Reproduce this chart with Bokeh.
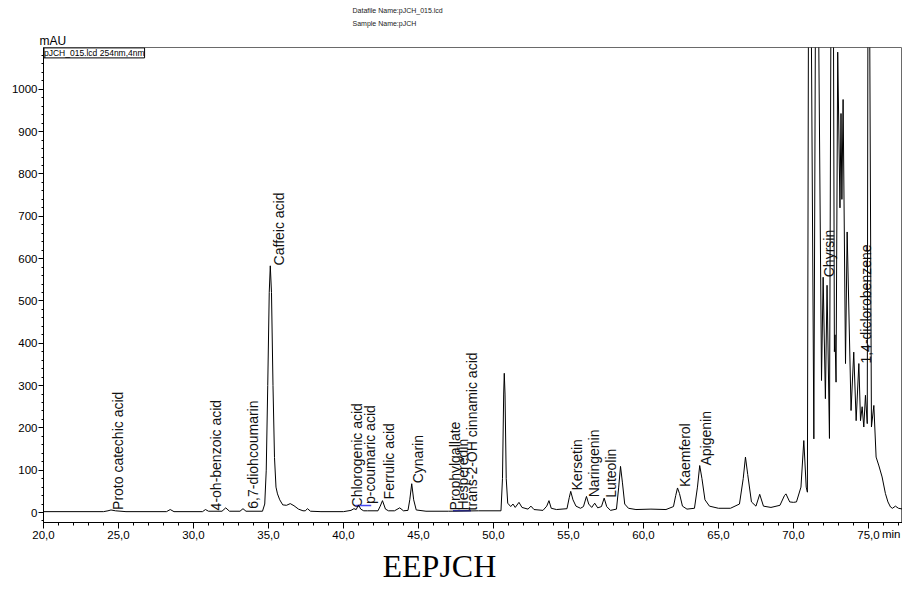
from bokeh.plotting import figure
from bokeh.models import ColumnDataSource, FixedTicker, Label, Range1d, Title
from bokeh.core.properties import value
from bokeh.embed import file_html
from bokeh.resources import INLINE
import math

# ---------------- data ----------------
time_min = [
    20.0, 24.0, 24.3, 24.5, 24.8, 25.5, 28.2, 28.45, 28.7, 30.6, 30.8, 31.0,
    31.9, 32.15, 32.4, 33.1, 33.3, 33.5, 34.6, 34.75, 34.85, 34.95, 35.05, 35.12,
    35.2, 35.3, 35.4, 35.5, 35.6, 35.75, 35.95, 36.2, 36.45, 36.7, 37.0, 37.3,
    37.45, 37.6, 37.8, 38.5, 40.0, 40.5, 40.7, 40.85, 41.0, 41.15, 41.35, 41.6,
    42.3, 42.45, 42.6, 42.8, 43.0, 43.4, 43.75, 44.0, 44.3, 44.42, 44.55, 44.68,
    44.85, 45.5, 47.0, 49.0, 50.5, 50.6, 50.68, 50.72, 50.77, 50.85, 50.95, 51.15,
    51.3, 51.45, 51.7, 51.9, 52.3, 52.5, 52.7, 53.3, 53.55, 53.7, 53.85, 54.2,
    54.9, 55.05, 55.15, 55.3, 55.5, 55.8, 56.0, 56.2, 56.35, 56.55, 56.75, 56.95,
    57.2, 57.38, 57.55, 57.8, 58.2, 58.35, 58.47, 58.6, 58.75, 59.0, 59.5, 60.5,
    61.5, 62.0, 62.15, 62.27, 62.4, 62.6, 62.9, 63.4, 63.6, 63.75, 63.9, 64.1,
    64.4, 65.0, 65.8, 66.4, 66.65, 66.8, 66.95, 67.2, 67.5, 67.75, 68.0, 68.5,
    69.1, 69.4, 69.5, 69.75, 70.0, 70.2, 70.5, 70.69, 70.85, 70.93, 71.02, 71.13,
    71.36, 71.5, 71.6, 71.87, 71.98, 72.13, 72.24, 72.4, 72.53, 72.64, 72.73, 72.77,
    72.84, 72.95, 73.1, 73.17, 73.23, 73.31, 73.47, 73.58, 73.84, 74.02, 74.18, 74.36,
    74.47, 74.58, 74.69, 74.8, 74.92, 74.98, 75.04, 75.2, 75.36, 75.51, 75.7, 75.91,
    76.13, 76.3, 76.47, 76.6, 76.8, 77.0, 77.3,
]
absorbance_mau = [
    2, 2, 4, 6, 4, 2, 2, 7, 2, 2, 7, 3,
    3, 11, 3, 3, 9, 3, 3, 20, 100, 300, 520, 583,
    520, 300, 130, 60, 44, 30, 18, 17, 21, 16, 8, 4,
    4, 9, 3, 2, 2, 5, 9, 7, 18, 8, 4, 4,
    4, 15, 28, 8, 4, 4, 11, 4, 5, 30, 68, 30,
    6, 3, 3, 4, 4, 80, 280, 329, 280, 80, 22, 14,
    20, 12, 24, 12, 8, 15, 7, 5, 15, 28, 10, 7,
    9, 35, 50, 30, 15, 10, 14, 38, 20, 12, 22, 11,
    14, 34, 14, 5, 8, 60, 109, 70, 20, 10, 7, 8,
    7, 14, 40, 58, 45, 15, 8, 10, 60, 111, 80, 30,
    15, 10, 10, 20, 80, 131, 90, 25, 15, 43, 15, 12,
    17, 40, 44, 25, 24, 25, 60, 170, 60, 48, 1500, 1500,
    174, 1500, 1500, 312, 556, 269, 537, 175, 1500, 1500, 380, 420,
    308, 1088, 720, 943, 740, 976, 352, 663, 241, 379, 217, 352,
    217, 250, 202, 277, 210, 1500, 1500, 202, 253, 131, 110, 84,
    45, 25, 13, 10, 15, 10, 8,
]

peak_names = [
    "Proto catechic acid", "4-oh-benzoic acid", "6,7-diohcoumarin", "Caffeic acid",
    "Chlorogenic acid", "p-coumaric acid", "Ferrulic acid", "Cynarin",
    "Prophylgallate", "Hesperedin", "trans-2-OH cinnamic acid",
    "Kersetin", "Naringenin", "Luteolin", "Kaemferol", "Apigenin",
    "Chyrsin", "1,4-diclorobenzene",
]
peak_label_rt = [
    24.98, 31.5, 34.0, 35.7,
    40.93, 41.8, 43.06, 45.0,
    47.44, 48.0, 48.57,
    55.6, 56.68, 57.85, 62.8, 64.2,
    72.36, 74.82,
]
peak_label_mau = [
    6, 5, 9, 584,
    12, 20, 31, 69,
    5, 5, 5,
    52, 36, 35, 60, 111,
    556, 352,
]

baseline_seg_start = [40.8, 47.3]
baseline_seg_end = [41.85, 48.5]
baseline_seg_mau = [16.5, 4.0]

x_ticks = [20.0, 25.0, 30.0, 35.0, 40.0, 45.0, 50.0, 55.0, 60.0, 65.0, 70.0, 75.0]
x_tick_labels = ["20,0", "25,0", "30,0", "35,0", "40,0", "45,0", "50,0",
                 "55,0", "60,0", "65,0", "70,0", "75,0"]
x_minor_ticks = [float(v) for v in range(20, 78)]
y_ticks = [0, 100, 200, 300, 400, 500, 600, 700, 800, 900, 1000]
y_minor_ticks = [float(v) for v in range(-20, 1100, 20)]

# ---------------- figure ----------------
FONT = "Liberation Sans"
p = figure(width=902, height=591,
           x_range=Range1d(20.0, 77.27), y_range=Range1d(-23.63, 1098.96),
           output_backend="svg", toolbar_location=None,
           min_border_left=43, min_border_right=0,
           min_border_top=47, min_border_bottom=69)
p.xgrid.visible = False
p.ygrid.visible = False
p.outline_line_color = "#6a6a6a"
p.outline_line_width = 1
p.background_fill_color = "white"
p.border_fill_color = "white"

p.xaxis.ticker = FixedTicker(ticks=x_ticks, minor_ticks=x_minor_ticks)
p.xaxis.major_label_overrides = dict(zip(x_ticks, x_tick_labels))
p.yaxis.ticker = FixedTicker(ticks=y_ticks, minor_ticks=y_minor_ticks)

for ax in (p.xaxis, p.yaxis):
    ax.axis_line_color = "black"
    ax.major_tick_line_color = "black"
    ax.minor_tick_line_color = "black"
    ax.major_tick_in = 0
    ax.minor_tick_in = 0
    ax.major_label_text_font = FONT
    ax.major_label_text_font_size = "11.5px"
    ax.major_label_text_color = "black"
p.xaxis.major_tick_out = 6
p.xaxis.minor_tick_out = 3
p.xaxis.major_label_standoff = 2
p.yaxis.major_tick_out = 5
p.yaxis.minor_tick_out = 2
p.yaxis.major_label_standoff = 1

# peak labels (drawn first so the trace lies over them)
lab_src = ColumnDataSource(dict(x=peak_label_rt, y=peak_label_mau, name=peak_names))
p.text(x="x", y="y", text="name", source=lab_src, angle=math.pi / 2,
       text_align="left", text_baseline="middle",
       text_font=value(FONT), text_font_size="14px", text_color="#111111")

# baseline markers
p.segment(x0=baseline_seg_start, y0=baseline_seg_mau,
          x1=baseline_seg_end, y1=baseline_seg_mau,
          line_color="#4a4af0", line_width=1.5)

# chromatogram trace
p.line(time_min, absorbance_mau, line_color="black", line_width=1)

# ---------------- annotations ----------------
p.add_layout(Label(x=20.03, y=1098.0, text="pJCH_015.lcd 254nm,4nm", text_font=FONT,
                   text_font_size="8.5px", text_baseline="top", text_color="black",
                   border_line_color="black", background_fill_color="white"))

p.add_layout(Title(text="mAU", align="left", offset=-4, standoff=0,
                   text_font=FONT, text_font_size="12px", text_font_style="normal",
                   text_color="black"), "above")
p.add_layout(Title(text="Sample Name:pJCH", align="left", offset=309, standoff=10,
                   text_font=FONT, text_font_size="7px", text_font_style="normal",
                   text_color="#222222"), "above")
p.add_layout(Title(text="Datafile Name:pJCH_015.lcd", align="left", offset=309, standoff=-3,
                   text_font=FONT, text_font_size="7px", text_font_style="normal",
                   text_color="#222222"), "above")

# unit of the time axis, pulled up into the tick-label row
p.add_layout(Title(text="min", align="right", offset=2, standoff=-28, vertical_align="top",
                   text_font=FONT, text_font_size="11.5px", text_font_style="normal",
                   text_color="black"), "below")
p.add_layout(Title(text="EEPJCH", align="left", offset=339, standoff=8,
                   text_font="Liberation Serif", text_font_size="32px",
                   text_font_style="normal", text_color="black"), "below")

open("out.html", "w").write(file_html(p, INLINE))
